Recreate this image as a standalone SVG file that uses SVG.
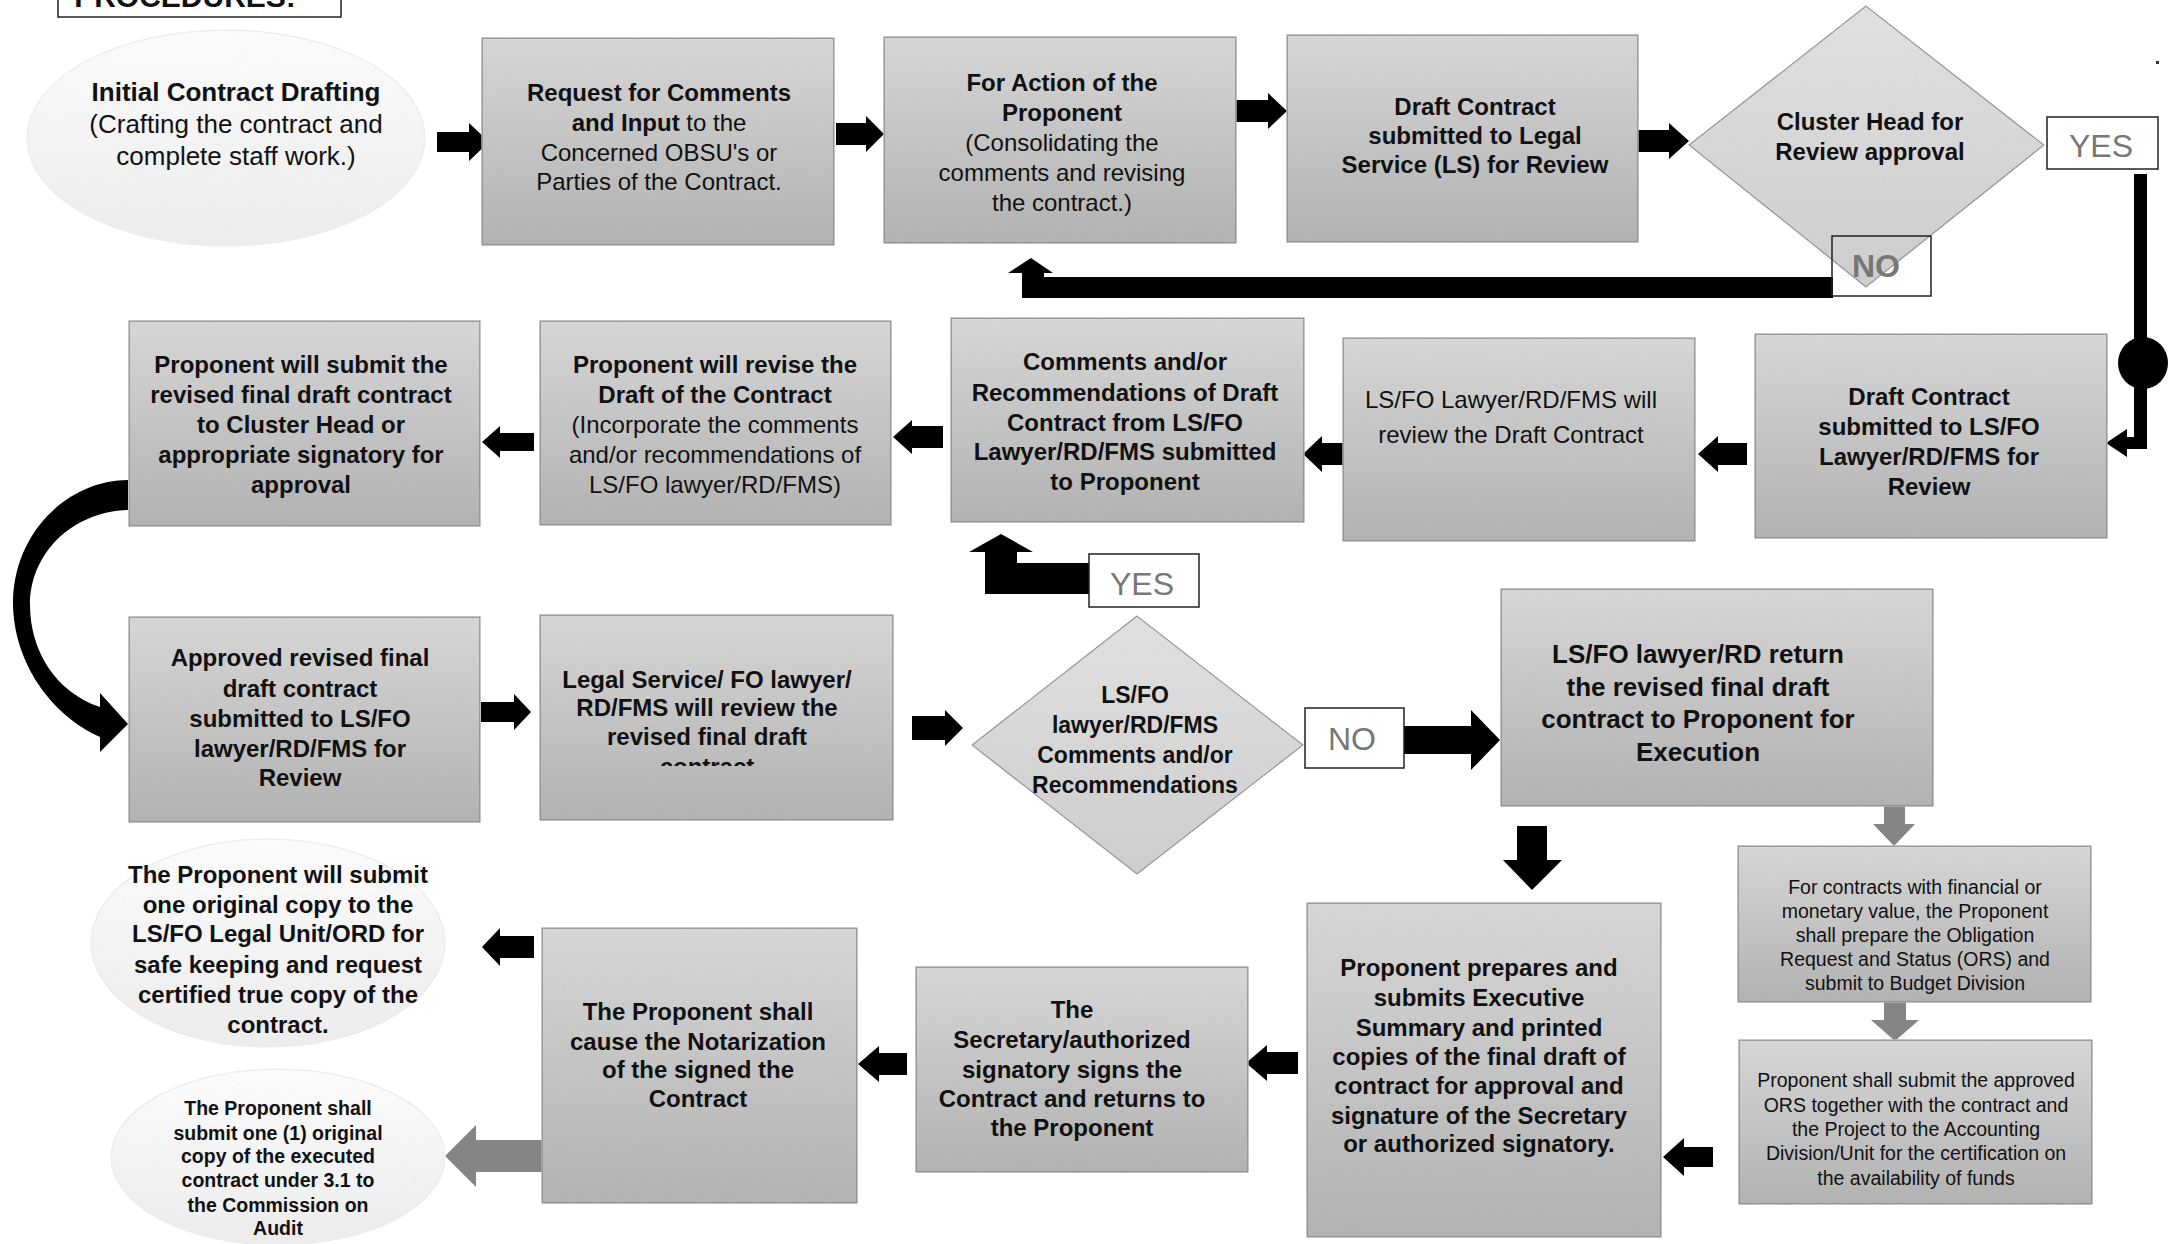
<svg xmlns="http://www.w3.org/2000/svg" width="2171" height="1244" viewBox="0 0 2171 1244">
<style>
text{font-family:"Liberation Sans",Arial,sans-serif;text-anchor:middle;fill:#111}
.b{font-weight:bold;font-size:24px}
.r{font-size:24px}
.b26{font-weight:bold;font-size:26px}
.r26{font-size:26px}
.s{font-size:19.5px}
.sb{font-weight:bold;font-size:19.5px}
.lbl{font-size:32px;fill:#777}
.box{fill:url(#gBox);stroke:#8a8a8a;stroke-width:1.5;filter:url(#grain)}
.dia{fill:url(#gDia);stroke:#999;stroke-width:1.5;filter:url(#grain)}
.ell{fill:url(#gEll);stroke:#ececec;stroke-width:1.5;filter:url(#grain)}
.tag{fill:#fff;stroke:#222;stroke-width:1.5}
.blk{fill:#000}
.gry{fill:#858585}
</style>
<defs>
<linearGradient id="gBox" x1="0" y1="0" x2="0" y2="1">
<stop offset="0" stop-color="#d6d6d6"/><stop offset="1" stop-color="#b2b2b2"/>
</linearGradient>
<linearGradient id="gDia" x1="0" y1="0" x2="0" y2="1">
<stop offset="0" stop-color="#e0e0e0"/><stop offset="1" stop-color="#cdcdcd"/>
</linearGradient>
<linearGradient id="gEll" x1="0" y1="0" x2="0" y2="1">
<stop offset="0" stop-color="#fbfbfb"/><stop offset="1" stop-color="#ececec"/>
</linearGradient>
<filter id="grain" x="-2%" y="-2%" width="104%" height="104%">
<feTurbulence type="fractalNoise" baseFrequency="0.9" numOctaves="2" seed="4" result="n"/>
<feColorMatrix in="n" type="matrix" values="0.33 0.33 0.33 0 0 0.33 0.33 0.33 0 0 0.33 0.33 0.33 0 0 0 0 0 0 1" result="g"/>
<feComponentTransfer in="g" result="t">
<feFuncR type="linear" slope="0.45" intercept="0.82"/>
<feFuncG type="linear" slope="0.45" intercept="0.82"/>
<feFuncB type="linear" slope="0.45" intercept="0.82"/>
</feComponentTransfer>
<feBlend in="SourceGraphic" in2="t" mode="multiply" result="m"/>
<feComposite in="m" in2="SourceGraphic" operator="in"/>
</filter>
<clipPath id="clipContract"><rect x="540" y="740" width="353" height="26"/></clipPath>
</defs>
<rect width="2171" height="1244" fill="#fff"/>

<g id="title">
<rect x="58" y="-6" width="283" height="23" fill="#fff" stroke="#222" stroke-width="1.5"/>
<text x="185" y="7" style="font-weight:bold;font-size:30px">PROCEDURES:</text>
</g>
<rect x="2156" y="61" width="3" height="3" fill="#333"/>

<g id="connectors">
<polygon class="blk" points="437,132 469,132 469,123 489,142 469,161 469,152 437,152"/>
<polygon class="blk" points="836,123 866,123 866,116 884,134 866,152 866,145 836,145"/>
<polygon class="blk" points="1236,100 1268,100 1268,93 1287,111 1268,129 1268,122 1236,122"/>
<polygon class="blk" points="1638,130 1669,130 1669,123 1689,141 1669,159 1669,152 1638,152"/>
<polygon class="blk" points="1833,277 1044,277 1044,273 1053,273 1031,258 1008,273 1022,273 1022,298 1833,298"/>
<path class="blk" d="M2134,174 L2147,174 L2147,449 L2126,449 L2126,437 L2134,437 Z"/>
<polygon class="blk" points="2127,429 2106,443 2127,457"/>
<ellipse class="blk" cx="2143" cy="363" rx="25" ry="26"/>
<polygon class="blk" points="1747,443 1718,443 1718,436 1698,454 1718,472 1718,465 1747,465"/>
<polygon class="blk" points="1354,443 1322,443 1322,436 1303,454 1322,472 1322,465 1354,465"/>
<polygon class="blk" points="943,426 912,426 912,420 893,437 912,454 912,448 943,448"/>
<polygon class="blk" points="534,433 500,433 500,426 482,442 500,458 500,451 534,451"/>
<path class="blk" d="M128,480 C70,480 15,530 13,600 C12,660 50,715 100,737 L100,752 L128,724 L100,693 L100,707 C55,692 30,650 30,605 C30,555 70,512 128,510 Z"/>
<polygon class="blk" points="481,702 514,702 514,694 531,712 514,730 514,722 481,722"/>
<polygon class="blk" points="912,716 945,716 945,710 963,728 945,746 945,740 912,740"/>
<polygon class="blk" points="1090,563 1017,563 1017,552 1033,552 1001,534 969,552 985,552 985,594 1090,594"/>
<polygon class="blk" points="1404,726 1471,726 1471,710 1500,740 1471,770 1471,754 1404,754"/>
<polygon class="blk" points="1517,826 1547,826 1547,860 1562,860 1532,890 1503,860 1517,860"/>
<polygon class="gry" points="1884,806 1905,806 1905,824 1915,824 1894,846 1873,824 1884,824"/>
<polygon class="gry" points="1884,1002 1906,1002 1906,1020 1919,1020 1895,1041 1871,1020 1884,1020"/>
<polygon class="blk" points="1713,1147 1684,1147 1684,1138 1663,1157 1684,1176 1684,1167 1713,1167"/>
<polygon class="blk" points="1298,1052 1267,1052 1267,1045 1246,1063 1267,1081 1267,1074 1298,1074"/>
<polygon class="blk" points="907,1053 879,1053 879,1046 858,1064 879,1082 879,1075 907,1075"/>
<polygon class="blk" points="534,936 500,936 500,928 482,947 500,966 500,958 534,958"/>
<polygon class="gry" points="545,1140 476,1140 476,1125 445,1156 476,1187 476,1172 545,1172"/>
</g>

<g id="n-initial">
<ellipse class="ell" cx="226" cy="138" rx="199" ry="108"/>
<text class="b26" x="236" y="101">Initial Contract Drafting</text>
<text class="r26" x="236" y="133">(Crafting the contract and</text>
<text class="r26" x="236" y="165">complete staff work.)</text>
</g>

<g id="n-request">
<rect class="box" x="482" y="38" width="352" height="207"/>
<text class="b" x="659" y="101">Request for Comments</text>
<text class="r" x="659" y="131"><tspan font-weight="bold">and Input</tspan> to the</text>
<text class="r" x="659" y="161">Concerned OBSU's or</text>
<text class="r" x="659" y="190">Parties of the Contract.</text>
</g>

<g id="n-action">
<rect class="box" x="884" y="37" width="352" height="206"/>
<text class="b" x="1062" y="91">For Action of the</text>
<text class="b" x="1062" y="121">Proponent</text>
<text class="r" x="1062" y="151">(Consolidating the</text>
<text class="r" x="1062" y="181">comments and revising</text>
<text class="r" x="1062" y="211">the contract.)</text>
</g>

<g id="n-draft-ls">
<rect class="box" x="1287" y="35" width="351" height="207"/>
<text class="b" x="1475" y="115">Draft Contract</text>
<text class="b" x="1475" y="144">submitted to Legal</text>
<text class="b" x="1475" y="173">Service (LS) for Review</text>
</g>

<g id="n-cluster">
<polygon class="dia" points="1866,6 2044,145 1866,287 1689,145"/>
<text class="b" x="1870" y="130">Cluster Head for</text>
<text class="b" x="1870" y="160">Review approval</text>
<rect class="tag" x="2047" y="117" width="111" height="52"/>
<text class="lbl" x="2101" y="157">YES</text>
<rect x="1832" y="236" width="99" height="60" fill="none" stroke="#222" stroke-width="1.5"/>
<text class="lbl" x="1876" y="277" font-weight="bold">NO</text>
</g>

<g id="n-draft-lsfo">
<rect class="box" x="1755" y="334" width="352" height="204"/>
<text class="b" x="1929" y="405">Draft Contract</text>
<text class="b" x="1929" y="435">submitted to LS/FO</text>
<text class="b" x="1929" y="465">Lawyer/RD/FMS for</text>
<text class="b" x="1929" y="495">Review</text>
</g>

<g id="n-lawyer-review">
<rect class="box" x="1343" y="338" width="352" height="203"/>
<text class="r" x="1511" y="408">LS/FO Lawyer/RD/FMS will</text>
<text class="r" x="1511" y="443">review the Draft Contract</text>
</g>

<g id="n-comments">
<rect class="box" x="951" y="318" width="353" height="204"/>
<text class="b" x="1125" y="370">Comments and/or</text>
<text class="b" x="1125" y="401">Recommendations of Draft</text>
<text class="b" x="1125" y="431">Contract from LS/FO</text>
<text class="b" x="1125" y="460">Lawyer/RD/FMS submitted</text>
<text class="b" x="1125" y="490">to Proponent</text>
</g>

<g id="n-revise">
<rect class="box" x="540" y="321" width="351" height="204"/>
<text class="b" x="715" y="373">Proponent will revise the</text>
<text class="b" x="715" y="403">Draft of the Contract</text>
<text class="r" x="715" y="433">(Incorporate the comments</text>
<text class="r" x="715" y="463">and/or recommendations of</text>
<text class="r" x="715" y="493">LS/FO lawyer/RD/FMS)</text>
</g>

<g id="n-submit-cluster">
<rect class="box" x="129" y="321" width="351" height="205"/>
<text class="b" x="301" y="373">Proponent will submit the</text>
<text class="b" x="301" y="403">revised final draft contract</text>
<text class="b" x="301" y="433">to Cluster Head or</text>
<text class="b" x="301" y="463">appropriate signatory for</text>
<text class="b" x="301" y="493">approval</text>
</g>

<g id="n-approved">
<rect class="box" x="129" y="617" width="351" height="205"/>
<text class="b" x="300" y="666">Approved revised final</text>
<text class="b" x="300" y="697">draft contract</text>
<text class="b" x="300" y="727">submitted to LS/FO</text>
<text class="b" x="300" y="757">lawyer/RD/FMS for</text>
<text class="b" x="300" y="786">Review</text>
</g>

<g id="n-legal-review">
<rect class="box" x="540" y="615" width="353" height="205"/>
<text class="b" x="707" y="688">Legal Service/ FO lawyer/</text>
<text class="b" x="707" y="716">RD/FMS will review the</text>
<text class="b" x="707" y="745">revised final draft</text>
<text class="b" x="707" y="775" clip-path="url(#clipContract)">contract</text>
</g>

<g id="n-lsfo-decision">
<polygon class="dia" points="1137,616 1303,745 1137,874 972,745"/>
<text class="b" x="1135" y="703" style="font-size:23px">LS/FO</text>
<text class="b" x="1135" y="733" style="font-size:23px">lawyer/RD/FMS</text>
<text class="b" x="1135" y="763" style="font-size:23px">Comments and/or</text>
<text class="b" x="1135" y="793" style="font-size:23px">Recommendations</text>
<rect class="tag" x="1089" y="554" width="110" height="53"/>
<text class="lbl" x="1142" y="595">YES</text>
<rect class="tag" x="1305" y="708" width="99" height="60"/>
<text class="lbl" x="1352" y="750">NO</text>
</g>

<g id="n-return">
<rect class="box" x="1501" y="589" width="432" height="217"/>
<text class="b26" x="1698" y="663">LS/FO lawyer/RD return</text>
<text class="b26" x="1698" y="696">the revised final draft</text>
<text class="b26" x="1698" y="728">contract to Proponent for</text>
<text class="b26" x="1698" y="761">Execution</text>
</g>

<g id="n-ors-prepare">
<rect class="box" x="1738" y="846" width="353" height="156"/>
<text class="s" x="1915" y="894">For contracts with financial or</text>
<text class="s" x="1915" y="918">monetary value, the Proponent</text>
<text class="s" x="1915" y="942">shall prepare the Obligation</text>
<text class="s" x="1915" y="966">Request and Status (ORS) and</text>
<text class="s" x="1915" y="990">submit to Budget Division</text>
</g>

<g id="n-ors-submit">
<rect class="box" x="1739" y="1040" width="353" height="164"/>
<text class="s" x="1916" y="1087">Proponent shall submit the approved</text>
<text class="s" x="1916" y="1112">ORS together with the contract and</text>
<text class="s" x="1916" y="1136">the Project to the Accounting</text>
<text class="s" x="1916" y="1160">Division/Unit for the certification on</text>
<text class="s" x="1916" y="1185">the availability of funds</text>
</g>

<g id="n-exec-summary">
<rect class="box" x="1307" y="903" width="354" height="334"/>
<text class="b" x="1479" y="976">Proponent prepares and</text>
<text class="b" x="1479" y="1006">submits Executive</text>
<text class="b" x="1479" y="1036">Summary and printed</text>
<text class="b" x="1479" y="1065">copies of the final draft of</text>
<text class="b" x="1479" y="1094">contract for approval and</text>
<text class="b" x="1479" y="1124">signature of the Secretary</text>
<text class="b" x="1479" y="1152">or authorized signatory.</text>
</g>

<g id="n-sign">
<rect class="box" x="916" y="967" width="332" height="205"/>
<text class="b" x="1072" y="1018">The</text>
<text class="b" x="1072" y="1048">Secretary/authorized</text>
<text class="b" x="1072" y="1078">signatory signs the</text>
<text class="b" x="1072" y="1107">Contract and returns to</text>
<text class="b" x="1072" y="1136">the Proponent</text>
</g>

<g id="n-notarize">
<rect class="box" x="542" y="928" width="315" height="275"/>
<text class="b" x="698" y="1020">The Proponent shall</text>
<text class="b" x="698" y="1050">cause the Notarization</text>
<text class="b" x="698" y="1078">of the signed the</text>
<text class="b" x="698" y="1107">Contract</text>
</g>

<g id="n-safekeeping">
<ellipse class="ell" cx="268" cy="943" rx="177" ry="104"/>
<text class="b" x="278" y="883">The Proponent will submit</text>
<text class="b" x="278" y="913">one original copy to the</text>
<text class="b" x="278" y="942">LS/FO Legal Unit/ORD for</text>
<text class="b" x="278" y="973">safe keeping and request</text>
<text class="b" x="278" y="1003">certified true copy of the</text>
<text class="b" x="278" y="1033">contract.</text>
</g>

<g id="n-coa">
<ellipse class="ell" cx="278" cy="1157" rx="167" ry="88"/>
<text class="sb" x="278" y="1115">The Proponent shall</text>
<text class="sb" x="278" y="1140">submit one (1) original</text>
<text class="sb" x="278" y="1163">copy of the executed</text>
<text class="sb" x="278" y="1187">contract under 3.1 to</text>
<text class="sb" x="278" y="1212">the Commission on</text>
<text class="sb" x="278" y="1235">Audit</text>
</g>
</svg>
